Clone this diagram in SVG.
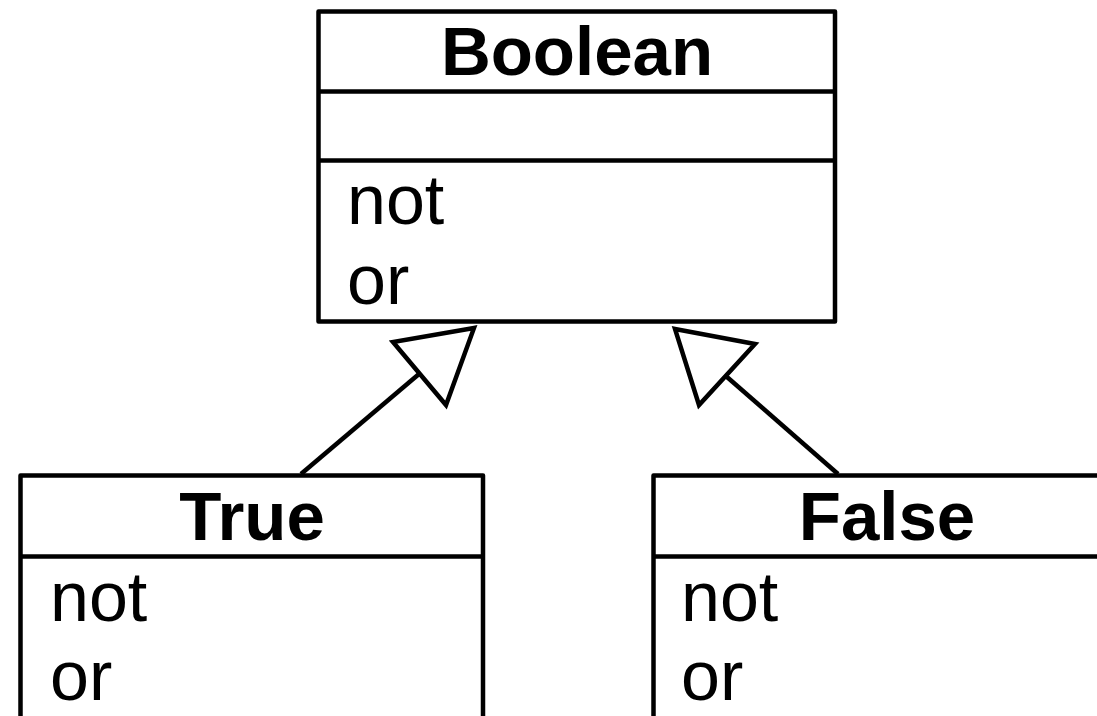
<svg xmlns="http://www.w3.org/2000/svg" width="1097" height="716" viewBox="0 0 1097 716">
  <style>
    .box { fill: #ffffff; stroke: #000000; stroke-width: 4.5; stroke-linejoin: round; }
    .sep { stroke: #000000; stroke-width: 4.5; }
    .title { font-family: "Liberation Sans", Arial, sans-serif; font-weight: bold; font-size: 69px; fill: #000000; text-anchor: middle; }
    .op { font-family: "Liberation Sans", Arial, sans-serif; font-size: 70px; fill: #000000; }
    .edge { stroke: #000000; stroke-width: 4.5; fill: none; }
    .head { fill: #ffffff; stroke: #000000; stroke-width: 4.5; stroke-linejoin: miter; }
  </style>
  <rect width="1097" height="716" fill="#ffffff"/>

  <!-- generalization connectors -->
  <g id="connectors">
    <line class="edge" x1="301" y1="474" x2="419" y2="374"/>
    <polygon class="head" points="474,328 393,342 446,405"/>
    <line class="edge" x1="838" y1="474" x2="727" y2="377"/>
    <polygon class="head" points="675,329 755,344 699,405"/>
  </g>

  <!-- superclass -->
  <g id="boolean">
    <rect class="box" x="318.5" y="11.5" width="516.5" height="310"/>
    <line class="sep" x1="318.5" y1="91.5" x2="835" y2="91.5"/>
    <line class="sep" x1="318.5" y1="160.5" x2="835" y2="160.5"/>
    <text class="title" x="577" y="75">Boolean</text>
    <text class="op" x="347" y="224">not</text>
    <text class="op" x="347" y="304">or</text>
  </g>

  <!-- subclass True -->
  <g id="true">
    <rect class="box" x="20.5" y="475.5" width="462.5" height="300"/>
    <line class="sep" x1="20.5" y1="556.5" x2="483" y2="556.5"/>
    <text class="title" x="252" y="540">True</text>
    <text class="op" x="50" y="621">not</text>
    <text class="op" x="50" y="700">or</text>
  </g>

  <!-- subclass False -->
  <g id="false">
    <rect class="box" x="653.5" y="475.5" width="462.5" height="300"/>
    <line class="sep" x1="653.5" y1="556.5" x2="1116" y2="556.5"/>
    <text class="title" x="887" y="540">False</text>
    <text class="op" x="681" y="621">not</text>
    <text class="op" x="681" y="700">or</text>
  </g>
</svg>
